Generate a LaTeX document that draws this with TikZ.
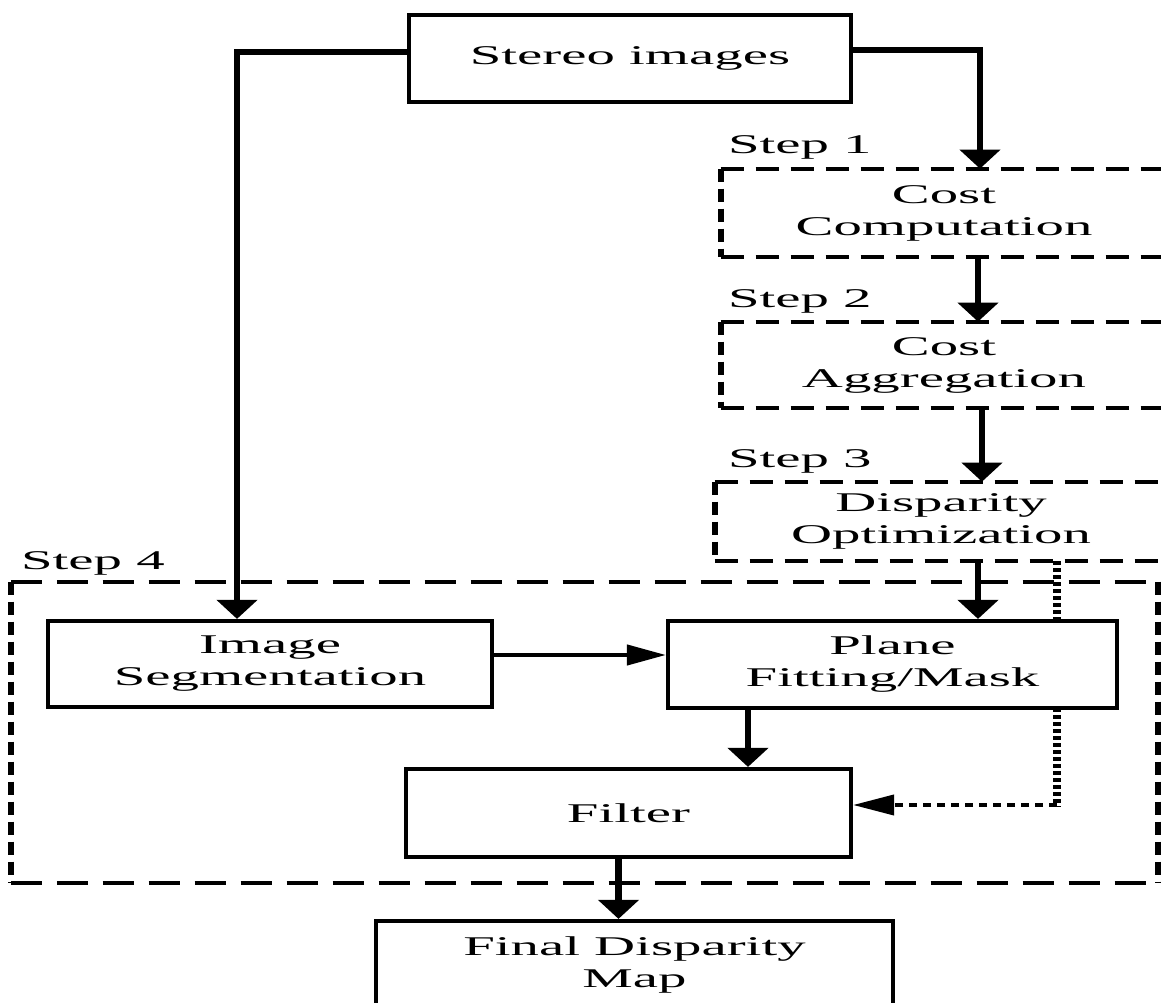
\documentclass[tikz,border=0pt]{standalone}
\usepackage{fontspec}
\setmainfont{Liberation Serif}[FakeStretch=2.1]
\usetikzlibrary{positioning,calc,arrows.meta}
\tikzstyle{block}=[rectangle, draw=black, line width=2.4pt, fill=white, text centered, align=center, font=\fontsize{15.4pt}{18.2pt}\selectfont]
\tikzstyle{stepbox}=[rectangle, draw=none, fill=white, text centered, align=center, font=\fontsize{15.4pt}{18.2pt}\selectfont]
\tikzstyle{steplabel}=[anchor=base west, inner sep=0pt, font=\fontsize{15.4pt}{18.2pt}\selectfont]
\tikzstyle{heavyarrow}=[-{Triangle[width=0.8cm,length=0.38cm]}, line width=3.8pt]
\tikzstyle{thinarrow}=[-{Triangle[width=0.4cm,length=0.78cm]}, line width=2.4pt]
\tikzstyle{hdash}=[line width=2.2pt, dash pattern=on 0.46cm off 0.24cm]
\tikzstyle{vdash}=[line width=3.4pt, dash pattern=on 0.26cm off 0.14cm]
\tikzstyle{hdashbig}=[line width=2.4pt, dash pattern=on 0.62cm off 0.3cm]
\tikzstyle{hdot}=[line width=2.2pt, dash pattern=on 0.16cm off 0.12cm]
\tikzstyle{vdot}=[line width=4.6pt, dash pattern=on 0.08cm off 0.06cm]
\pgfdeclarelayer{background}
\pgfsetlayers{background,main}
\newcommand{\dashframe}[3]{%
  \draw[#2] (#1.north west) -- (#1.north east) (#1.south west) -- (#1.south east);
  \draw[#3] (#1.north west) -- (#1.south west) (#1.north east) -- (#1.south east);}

\begin{document}
\begin{tikzpicture}[x=0.02cm, y=-0.02cm]
    \useasboundingbox (0,0) rectangle (1161,1003);

        \node (stereo) [block, minimum width=8.84cm, minimum height=1.74cm] at (630,58.5) {Stereo images};

        % Steps 1-3
        \node (cost) [stepbox, minimum width=8.92cm, minimum height=1.76cm] at (944,213) {Cost\\Computation};
        \node (agg) [stepbox, minimum width=8.92cm, minimum height=1.72cm] at (944,365) {Cost\\Aggregation};
        \node (opt) [stepbox, minimum width=9.04cm, minimum height=1.58cm] at (941,521.5) {Disparity\\Optimization};

        \node (stepone) [steplabel] at ([xshift=0.14cm,yshift=0.3cm]cost.north west) {Step 1};
        \node (steptwo) [steplabel] at ([xshift=0.14cm,yshift=0.28cm]agg.north west) {Step 2};
        \node (stepthree) [steplabel] at ([xshift=0.26cm,yshift=0.28cm]opt.north west) {Step 3};

        \dashframe{cost}{hdash}{vdash}
        \dashframe{agg}{hdash}{vdash}
        \dashframe{opt}{hdash}{vdash}

        % Step 4
        \node (stepfour) [rectangle, draw=none, minimum width=22.94cm, minimum height=6.02cm] at (584.5,732.5) {};
        \node (stepfourlabel) [steplabel] at ([xshift=0.2cm,yshift=0.24cm]stepfour.north west) {Step 4};
        \dashframe{stepfour}{hdashbig}{vdash}

        \node (seg) [block, minimum width=8.88cm, minimum height=1.72cm] at (270,664) {Image\\Segmentation};
        \node (plane) [block, minimum width=8.98cm, minimum height=1.74cm] at (892.5,664.5) {Plane\\Fitting/Mask};
        \node (filter) [block, minimum width=8.9cm, minimum height=1.76cm] at (628.5,813) {Filter};

        \node (final) [block, minimum width=10.34cm, minimum height=1.76cm] at (634.5,965) {Final Disparity\\Map};

        % exits of the arrows
        \coordinate (costout) at ($(cost.south)+(34,0)$);
        \coordinate (aggout) at ($(agg.south)+(38,0)$);
        \coordinate (optout) at ($(opt.south)+(37,0)$);
        \coordinate (segout) at ($(seg.east)+(0,-9)$);
        \coordinate (planeout) at ($(plane.south)+(-144.5,0)$);
        \coordinate (filterout) at ($(filter.south)+(-10,0)$);

        %Arrows
        \draw[heavyarrow] ([yshift=0.13cm]stereo.west) -| ([xshift=-0.66cm]seg.north);
        \draw[heavyarrow] ([yshift=0.17cm]stereo.east) -| ([xshift=0.72cm]cost.north);
        \draw[heavyarrow] (costout) -- (costout |- agg.north);
        \draw[heavyarrow] (aggout) -- (aggout |- opt.north);
        \draw[heavyarrow] (optout) -- (optout |- plane.north);

        %Step 4 arrows
        \draw[thinarrow] (segout) -- (segout -| plane.west);
        \draw[heavyarrow] (planeout) -- (planeout |- filter.north);
        \draw[heavyarrow] (filterout) -- (filterout |- final.north);

    \begin{pgfonlayer}{background}
        \coordinate (dottop) at ($(opt.south)+(116,0)$);
        \coordinate (dotend) at ($(filter.east)+(0,-8)$);
        \coordinate (dotturn) at (dottop |- dotend);
        \draw[vdot] (dottop) -- ([yshift=-0.04cm]dotturn);
        \draw[hdot, -{Triangle[width=0.4cm,length=0.82cm]}] (dotturn) -- (dotend);
    \end{pgfonlayer}

\end{tikzpicture}
\end{document}
